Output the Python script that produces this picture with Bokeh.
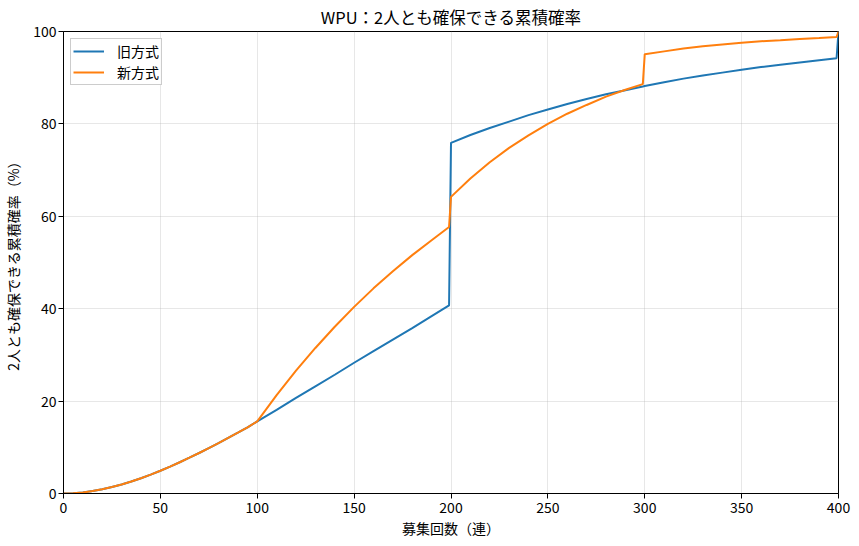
from bokeh.plotting import figure
from bokeh.models import FixedTicker, Range1d, Legend, LegendItem
from bokeh.embed import file_html
from bokeh.resources import INLINE

FONT = "Noto Sans CJK JP"

pulls = [0, 5, 10, 15, 20, 25, 30, 35, 40, 45, 50, 55, 60, 65, 70, 75, 80, 85, 90, 95, 100,
         110, 120, 130, 140, 150, 160, 170, 180, 190, 199,
         200, 210, 220, 230, 240, 250, 260, 270, 280, 290, 299,
         300, 310, 320, 330, 340, 350, 360, 370, 380, 390, 399, 400]

old_rate = [0, 0.06, 0.24, 0.52, 0.91, 1.39, 1.95, 2.59, 3.31, 4.09, 4.92, 5.82, 6.76, 7.75, 8.77, 9.83, 10.92, 12.03, 13.17, 14.33, 15.6,
            18.1, 20.7, 23.2, 25.7, 28.3, 30.8, 33.3, 35.8, 38.4, 40.7,
            75.9, 77.6, 79.1, 80.5, 81.9, 83.1, 84.3, 85.4, 86.4, 87.3, 88.1,
            88.2, 89.0, 89.8, 90.5, 91.1, 91.7, 92.3, 92.8, 93.3, 93.8, 94.2, 100]

new_rate = [0, 0.06, 0.24, 0.52, 0.91, 1.39, 1.95, 2.59, 3.31, 4.09, 4.92, 5.82, 6.76, 7.75, 8.77, 9.83, 10.92, 12.03, 13.17, 14.33, 15.6,
            21.3, 26.6, 31.5, 36.1, 40.4, 44.4, 48.1, 51.6, 54.8, 57.7,
            64.2, 68.2, 71.7, 74.8, 77.5, 80.0, 82.2, 84.1, 85.9, 87.4, 88.6,
            95.1, 95.7, 96.3, 96.8, 97.2, 97.55, 97.9, 98.1, 98.4, 98.6, 98.8, 100]

x_ticks = [0, 50, 100, 150, 200, 250, 300, 350, 400]
y_ticks = [0, 20, 40, 60, 80, 100]

title_text = "WPU：2人とも確保できる累積確率"
x_label = "募集回数（連）"
y_label = "2人とも確保できる累積確率（%）"
series_names = ["旧方式", "新方式"]

p = figure(frame_width=775, frame_height=462, output_backend="svg", toolbar_location=None,
           x_range=Range1d(0, 400), y_range=Range1d(0, 100),
           min_border_left=55, min_border_right=14, min_border_top=23, min_border_bottom=40,
           title=title_text)

p.title.text_font = FONT
p.title.text_font_size = "16.5px"
p.title.text_font_style = "normal"
p.title.text_color = "black"
p.title.align = "center"
p.title.standoff = 5

r_old = p.line(pulls, old_rate, line_color="#1f77b4", line_width=2)
r_new = p.line(pulls, new_rate, line_color="#ff7f0e", line_width=2)

for ax, ticks, lab in ((p.xaxis[0], x_ticks, x_label), (p.yaxis[0], y_ticks, y_label)):
    ax.ticker = FixedTicker(ticks=ticks)
    ax.axis_label = lab
    ax.axis_label_text_font = FONT
    ax.axis_label_text_font_size = "14px"
    ax.axis_label_text_font_style = "normal"
    ax.axis_label_text_color = "black"
    ax.major_label_text_font = FONT
    ax.major_label_text_font_size = "14px"
    ax.major_label_text_color = "black"
    ax.axis_line_color = "black"
    ax.major_tick_line_color = "black"
    ax.major_tick_out = 5
    ax.major_tick_in = 0
    ax.minor_tick_line_color = None
    ax.major_label_standoff = 2

p.xaxis[0].major_label_standoff = 3
p.xaxis[0].axis_label_standoff = 2
p.yaxis[0].axis_label_standoff = 7

p.xgrid.ticker = FixedTicker(ticks=x_ticks)
p.ygrid.ticker = FixedTicker(ticks=y_ticks)
p.grid.grid_line_color = "#b0b0b0"
p.grid.grid_line_alpha = 0.3

p.outline_line_color = "black"
p.outline_line_alpha = 1
p.outline_line_width = 1

legend = Legend(items=[LegendItem(label=series_names[0], renderers=[r_old]),
                       LegendItem(label=series_names[1], renderers=[r_new])],
                location="top_left")
legend.margin = 7
legend.padding = 2
legend.spacing = 1
legend.label_height = 20
legend.glyph_height = 20
legend.glyph_width = 31
legend.label_standoff = 13
legend.label_text_font = FONT
legend.label_text_font_size = "14px"
legend.label_text_color = "black"
legend.border_line_color = "#cccccc"
legend.border_line_alpha = 1
legend.background_fill_alpha = 0.8
p.add_layout(legend)

open("out.html", "w").write(file_html(p, INLINE))
